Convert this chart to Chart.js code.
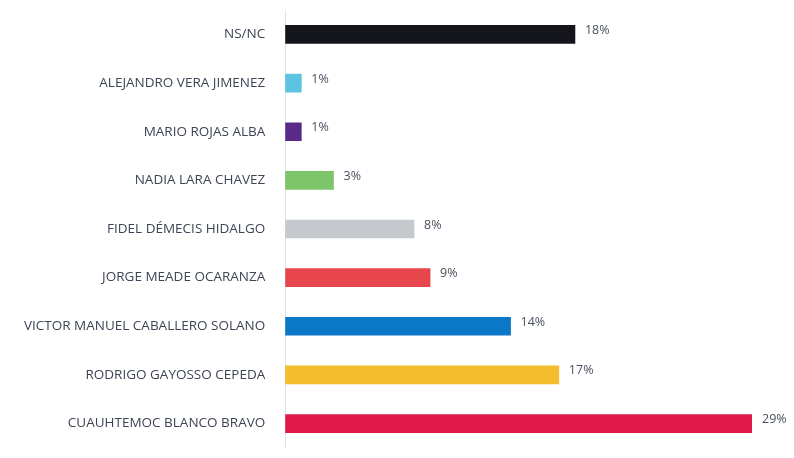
<!DOCTYPE html>
<html>
<head>
<meta charset="utf-8">
<script src="https://cdn.jsdelivr.net/npm/chart.js@4"></script>
<style>
  html, body { margin: 0; padding: 0; background: #ffffff; }
</style>
</head>
<body>
<canvas id="chart" width="794" height="458"></canvas>
<script>
const candidates = [
    "NS/NC",
    "ALEJANDRO VERA JIMENEZ",
    "MARIO ROJAS ALBA",
    "NADIA LARA CHAVEZ",
    "FIDEL DÉMECIS HIDALGO",
    "JORGE MEADE OCARANZA",
    "VICTOR MANUEL CABALLERO SOLANO",
    "RODRIGO GAYOSSO CEPEDA",
    "CUAUHTEMOC BLANCO BRAVO"
];
const percentages = [18, 1, 1, 3, 8, 9, 14, 17, 29];
const barColors = [
    "#14151b",
    "#5cc3e0",
    "#5a2a88",
    "#7dc56b",
    "#c5c9cd",
    "#e8464d",
    "#0a77c7",
    "#f4bd2e",
    "#de1848"
];

// draws the "18%" style labels at the end of each bar
const valueLabels = {
    id: "valueLabels",
    afterDatasetsDraw(chart) {
        const ctx = chart.ctx;
        const meta = chart.getDatasetMeta(0);
        ctx.save();
        ctx.font = "12.5px 'Open Sans', sans-serif";
        ctx.fillStyle = "#4a5060";
        ctx.textBaseline = "middle";
        meta.data.forEach((bar, i) => {
            ctx.fillText(percentages[i] + "%", bar.x + 10, bar.y - 4);
        });
        ctx.restore();
    }
};

new Chart(document.getElementById("chart"), {
    type: "bar",
    data: {
        labels: candidates,
        datasets: [
            {
                data: percentages,
                backgroundColor: barColors,
                barThickness: 18
            }
        ]
    },
    options: {
        indexAxis: "y",
        responsive: false,
        animation: false,
        layout: {
            padding: { top: 0, right: 42, bottom: 10, left: 22 }
        },
        scales: {
            x: {
                display: false,
                min: 0,
                max: 29
            },
            y: {
                grid: {
                    display: true,
                    drawOnChartArea: false,
                    drawTicks: true,
                    tickLength: 18,
                    tickColor: "rgba(0,0,0,0)"
                },
                border: { display: true, color: "#e3e5e8", width: 1 },
                ticks: {
                    color: "#3d4454",
                    padding: 2,
                    font: { family: "'Open Sans', sans-serif", size: 13.5 }
                }
            }
        },
        plugins: {
            legend: { display: false },
            tooltip: { enabled: false }
        }
    },
    plugins: [valueLabels]
});
</script>
</body>
</html>
